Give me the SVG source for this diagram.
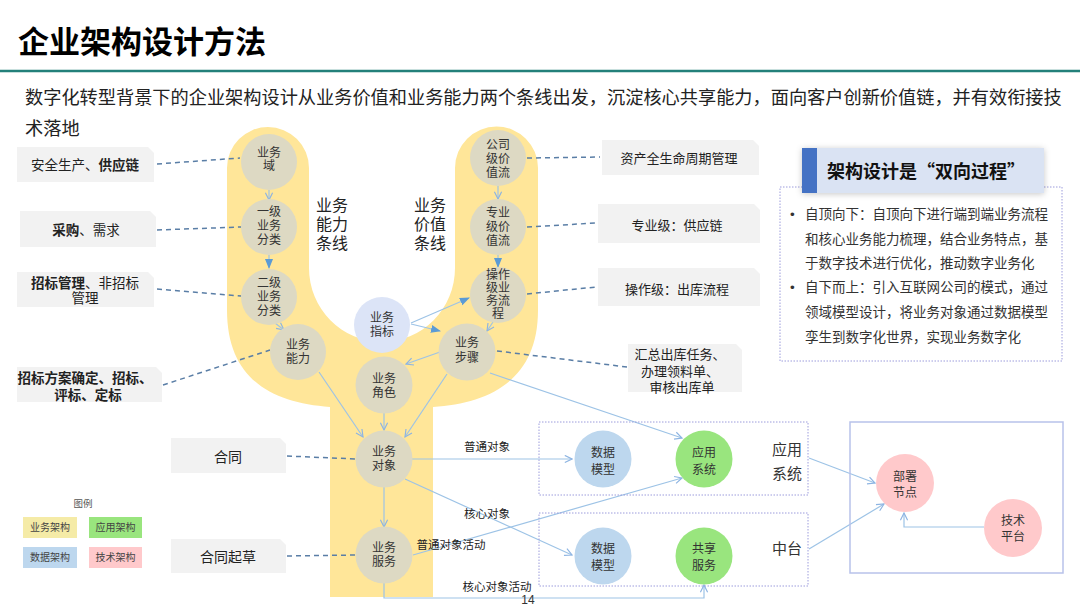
<svg xmlns="http://www.w3.org/2000/svg" width="1080" height="608" viewBox="0 0 1080 608">
<defs>
<style>
text{font-family:"Liberation Sans","Noto Sans CJK SC",sans-serif;fill:#333}
.title{font-size:31px;font-weight:bold;fill:#000}
.sub{font-size:18.2px;fill:#222}
.c{font-size:12px;text-anchor:middle}
.m{text-anchor:middle}
.b{font-weight:bold}
.box{fill:#F2F2F2}
.bt{font-size:13.5px;text-anchor:middle;fill:#222}
.rt{font-size:13px;text-anchor:middle;fill:#222}
.nd{fill:#DDD9C3}
.dash{stroke:#5A7EA6;stroke-width:1.5;stroke-dasharray:5 4;fill:none}
.ar{stroke:#9DC3E6;stroke-width:1.2;fill:none}
.ao{marker-end:url(#ao)}
.af{marker-end:url(#af)}
.el{font-size:11.5px;text-anchor:middle;fill:#222}
.big{font-size:16px;fill:#222}
.dot{fill:none;stroke:#9C9CDC;stroke-width:1;stroke-dasharray:1.5 1.5}
.pt{font-size:13.5px;fill:#333}
.lg{font-size:10px;text-anchor:middle;fill:#444}
</style>
<marker id="ao" viewBox="0 0 10 10" refX="9" refY="5" markerWidth="9" markerHeight="9" markerUnits="userSpaceOnUse" orient="auto"><path d="M1,1 L9,5 L1,9" fill="none" stroke="#8DB4E2" stroke-width="1.3"/></marker>
<marker id="af" viewBox="0 0 10 10" refX="9" refY="5" markerWidth="10" markerHeight="10" markerUnits="userSpaceOnUse" orient="auto"><path d="M0,1 L10,5 L0,9 Z" fill="#5B9BD5"/></marker>
<filter id="sh" x="-20%" y="-40%" width="140%" height="180%"><feDropShadow dx="0" dy="1" stdDeviation="3" flood-color="#000" flood-opacity="0.22"/></filter>
</defs>
<rect width="1080" height="608" fill="#fff"/>

<g id="header">
<text class="title" x="18" y="53">企业架构设计方法</text>
<line x1="0" y1="71" x2="1080" y2="71" stroke="#23807A" stroke-width="2.5"/>
<text class="sub" x="25" y="104">数字化转型背景下的企业架构设计从业务价值和业务能力两个条线出发，沉淀核心共享能力，面向客户创新价值链，并有效衔接技</text>
<text class="sub" x="25" y="135">术落地</text>
</g>

<g id="band">
<path d="M227,168 A41,41 0 0 1 309,168 L309,268 A73,74 0 0 0 455,268 L455,168 A41.5,41.5 0 0 1 538,168 L538,310 C538,380 490,403 433,407 L433,597 L330,597 L330,407 C273,403 227,380 227,310 Z" fill="#FFE699"/>
<text class="big m" x="332" y="211">业务</text>
<text class="big m" x="332" y="230">能力</text>
<text class="big m" x="332" y="249">条线</text>
<text class="big m" x="430" y="211">业务</text>
<text class="big m" x="430" y="230">价值</text>
<text class="big m" x="430" y="249">条线</text>
</g>

<g id="left-labels">
<g id="lb1"><path class="box" d="M17,147 H148 L154,153 V182 H17 Z"/><text class="bt" x="85" y="170">安全生产、<tspan class="b">供应链</tspan></text></g>
<g id="lb2"><path class="box" d="M20,211 H150 L156,217 V247 H20 Z"/><text class="bt" x="86" y="235"><tspan class="b">采购</tspan>、需求</text></g>
<g id="lb3"><path class="box" d="M17,272 H148 L154,278 V307 H17 Z"/><text class="bt" x="85" y="288"><tspan class="b">招标管理</tspan>、非招标</text><text class="bt" x="85" y="303">管理</text></g>
<g id="lb4"><path class="box" d="M17,367 H156 L162,373 V402 H17 Z"/><text class="bt b" x="85" y="383">招标方案确定、招标、</text><text class="bt b" x="88" y="400">评标、定标</text></g>
<g id="lb5"><path class="box" d="M171,438 H280 L286,444 V473 H171 Z"/><text class="bt" x="228" y="462" style="font-size:14px">合同</text></g>
<g id="lb6"><path class="box" d="M171,539 H280 L286,545 V573 H171 Z"/><text class="bt" x="228" y="562" style="font-size:14px">合同起草</text></g>
</g>

<g id="right-labels">
<g id="rb1"><path class="box" d="M602,140 H753 L759,146 V175 H602 Z"/><text class="rt" x="679" y="163">资产全生命周期管理</text></g>
<g id="rb2"><path class="box" d="M598,204 H754 L760,210 V243 H598 Z"/><text class="rt" x="677" y="230">专业级：供应链</text></g>
<g id="rb3"><path class="box" d="M598,268 H754 L760,274 V306 H598 Z"/><text class="rt" x="677" y="294">操作级：出库流程</text></g>
<g id="rb4"><path class="box" d="M628,344 H736 L742,350 V392 H628 Z"/><text class="rt" x="680" y="359">汇总出库任务、</text><text class="rt" x="680" y="376">办理领料单、</text><text class="rt" x="682" y="392">审核出库单</text></g>
</g>

<g id="connectors">
<path class="dash" d="M157,164 L240,158"/>
<path class="dash" d="M157,230 L241,227"/>
<path class="dash" d="M157,289 L241,296"/>
<path class="dash" d="M163,385 L270,350"/>
<path class="dash" d="M287,456 L356,459"/>
<path class="dash" d="M287,556 L356,555"/>
<path class="dash" d="M527,158 L600,157"/>
<path class="dash" d="M527,227 L596,223"/>
<path class="dash" d="M527,294 L596,287"/>
<path class="dash" d="M497,351 L627,367"/>

<path class="ar ao" d="M269,190 L269,200"/>
<path class="ar af" d="M269,255 L269,268" stroke="#5B9BD5"/>
<path class="ar ao" d="M275,323 L284,330"/>
<path class="ar ao" d="M498,186 L498,199"/>
<path class="ar af" d="M498,255 L498,267" stroke="#5B9BD5"/>
<path class="ar ao" d="M493,322 L487,331"/>
<path class="ar af" d="M411,323 L469,298" stroke="#8DB4E2"/>
<path class="ar af" d="M411,324 L440,331" stroke="#8DB4E2"/>
<path class="ar ao" d="M440,352 L406,364"/>
<path class="ar ao" d="M319,372 L363,437"/>
<path class="ar ao" d="M384,413 L384,430"/>
<path class="ar ao" d="M447,374 L405,437"/>
<path class="ar ao" d="M490,373 L682,438"/>
<path class="ar ao" d="M412,459 L572,459"/>
<path class="ar ao" d="M405,479 L572,555"/>
<path class="ar ao" d="M413,555 L682,478"/>
<path class="ar ao" d="M384,487 L384,527"/>
<path class="ar ao" d="M384,583 L384,598 L704,598 L704,585"/>
<path class="ar ao" d="M809,458 L875,483"/>
<path class="ar ao" d="M809,549 L884,504"/>
<path class="ar ao" d="M984,527 L904,527 L904,513"/>

<text class="el" x="487" y="451">普通对象</text>
<text class="el" x="487" y="518">核心对象</text>
<text class="el" x="451" y="549">普通对象活动</text>
<text class="el" x="497" y="591">核心对象活动</text>
</g>

<g id="n-domain"><circle class="nd" cx="269" cy="162" r="28"/><text class="c" x="269" y="157">业务</text><text class="c" x="269" y="170">域</text></g>
<g id="n-l1"><circle class="nd" cx="269" cy="227" r="28"/><text class="c" x="269" y="216">一级</text><text class="c" x="269" y="230">业务</text><text class="c" x="269" y="244">分类</text></g>
<g id="n-l2"><circle class="nd" cx="269" cy="297" r="28"/><text class="c" x="269" y="287">二级</text><text class="c" x="269" y="301">业务</text><text class="c" x="269" y="315">分类</text></g>
<g id="n-cap"><circle class="nd" cx="298" cy="352" r="28"/><text class="c" x="298" y="349">业务</text><text class="c" x="298" y="363">能力</text></g>
<g id="n-vc1"><circle class="nd" cx="498" cy="158" r="28"/><text class="c" x="498" y="149">公司</text><text class="c" x="498" y="163">级价</text><text class="c" x="498" y="177">值流</text></g>
<g id="n-vc2"><circle class="nd" cx="498" cy="227" r="28"/><text class="c" x="498" y="217">专业</text><text class="c" x="498" y="231">级价</text><text class="c" x="498" y="245">值流</text></g>
<g id="n-op"><circle class="nd" cx="498" cy="295" r="28"/><text class="c" x="498" y="279">操作</text><text class="c" x="498" y="292">级业</text><text class="c" x="498" y="305">务流</text><text class="c" x="498" y="318">程</text></g>
<g id="n-kpi"><circle cx="382" cy="325" r="28" fill="#DCE4F7"/><text class="c" x="382" y="322">业务</text><text class="c" x="382" y="336">指标</text></g>
<g id="n-step"><circle class="nd" cx="467" cy="352" r="28.5"/><text class="c" x="467" y="347">业务</text><text class="c" x="467" y="362">步骤</text></g>
<g id="n-role"><circle class="nd" cx="384" cy="385" r="28.5"/><text class="c" x="384" y="383">业务</text><text class="c" x="384" y="397">角色</text></g>
<g id="n-obj"><circle class="nd" cx="384" cy="459" r="28.5"/><text class="c" x="384" y="456">业务</text><text class="c" x="384" y="470">对象</text></g>
<g id="n-svc"><circle class="nd" cx="384" cy="555" r="28.5"/><text class="c" x="384" y="552">业务</text><text class="c" x="384" y="566">服务</text></g>

<g id="app-group">
<rect class="dot" x="539" y="422" width="269" height="73"/>
<g id="n-dm1"><circle cx="603" cy="459" r="28.5" fill="#BDD7EE"/><text class="c" x="603" y="457">数据</text><text class="c" x="603" y="474">模型</text></g>
<g id="n-app"><circle cx="704" cy="459" r="28.5" fill="#99E57E"/><text class="c" x="704" y="457">应用</text><text class="c" x="704" y="474">系统</text></g>
<text class="m" x="787" y="455" style="font-size:15px">应用</text>
<text class="m" x="787" y="479" style="font-size:15px">系统</text>
</g>
<g id="mid-group">
<rect class="dot" x="539" y="513" width="269" height="73"/>
<g id="n-dm2"><circle cx="603" cy="556" r="28.5" fill="#BDD7EE"/><text class="c" x="603" y="553">数据</text><text class="c" x="603" y="570">模型</text></g>
<g id="n-share"><circle cx="704" cy="556" r="28.5" fill="#99E57E"/><text class="c" x="704" y="553">共享</text><text class="c" x="704" y="570">服务</text></g>
<text class="m" x="787" y="554" style="font-size:15px">中台</text>
</g>
<g id="tech-group">
<rect x="850" y="422" width="213" height="151" fill="none" stroke="#B8C2EA" stroke-width="1.5"/>
<g id="n-deploy"><circle cx="905" cy="483" r="29" fill="#FFC9CB"/><text class="c" x="905" y="481">部署</text><text class="c" x="905" y="497">节点</text></g>
<g id="n-tech"><circle cx="1013" cy="528" r="29" fill="#FFC9CB"/><text class="c" x="1013" y="525">技术</text><text class="c" x="1013" y="541">平台</text></g>
</g>

<g id="panel">
<rect class="dot" x="780" y="187" width="282" height="174"/>
<rect x="802" y="148" width="242" height="45" fill="#DAE3F3" filter="url(#sh)"/>
<rect x="802" y="148" width="15" height="45" fill="#4472C4"/>
<text class="m b" x="926" y="178" style="font-size:18px;fill:#111;font-family:'Noto Sans CJK SC',sans-serif">架构设计是“双向过程”</text>
<text class="pt" x="790" y="219">•</text>
<text class="pt" x="805" y="219">自顶向下：自顶向下进行端到端业务流程</text>
<text class="pt" x="805" y="244">和核心业务能力梳理，结合业务特点，基</text>
<text class="pt" x="805" y="268">于数字技术进行优化，推动数字业务化</text>
<text class="pt" x="790" y="292">•</text>
<text class="pt" x="805" y="292">自下而上：引入互联网公司的模式，通过</text>
<text class="pt" x="805" y="317">领域模型设计，将业务对象通过数据模型</text>
<text class="pt" x="805" y="342">孪生到数字化世界，实现业务数字化</text>
</g>

<g id="legend">
<text class="m" x="83" y="507" style="font-size:9.5px;fill:#555">图例</text>
<rect x="23" y="517" width="54" height="21" fill="#F5EBA7"/><text class="lg" x="50" y="531">业务架构</text>
<rect x="89" y="517" width="53" height="21" fill="#99E57E"/><text class="lg" x="115.5" y="531">应用架构</text>
<rect x="23" y="547" width="54" height="21" fill="#BDD7EE"/><text class="lg" x="50" y="561">数据架构</text>
<rect x="89" y="547" width="53" height="21" fill="#FFC9CB"/><text class="lg" x="115.5" y="561">技术架构</text>
</g>

<text class="m" x="528" y="604" style="font-size:12px;fill:#333">14</text>
</svg>
